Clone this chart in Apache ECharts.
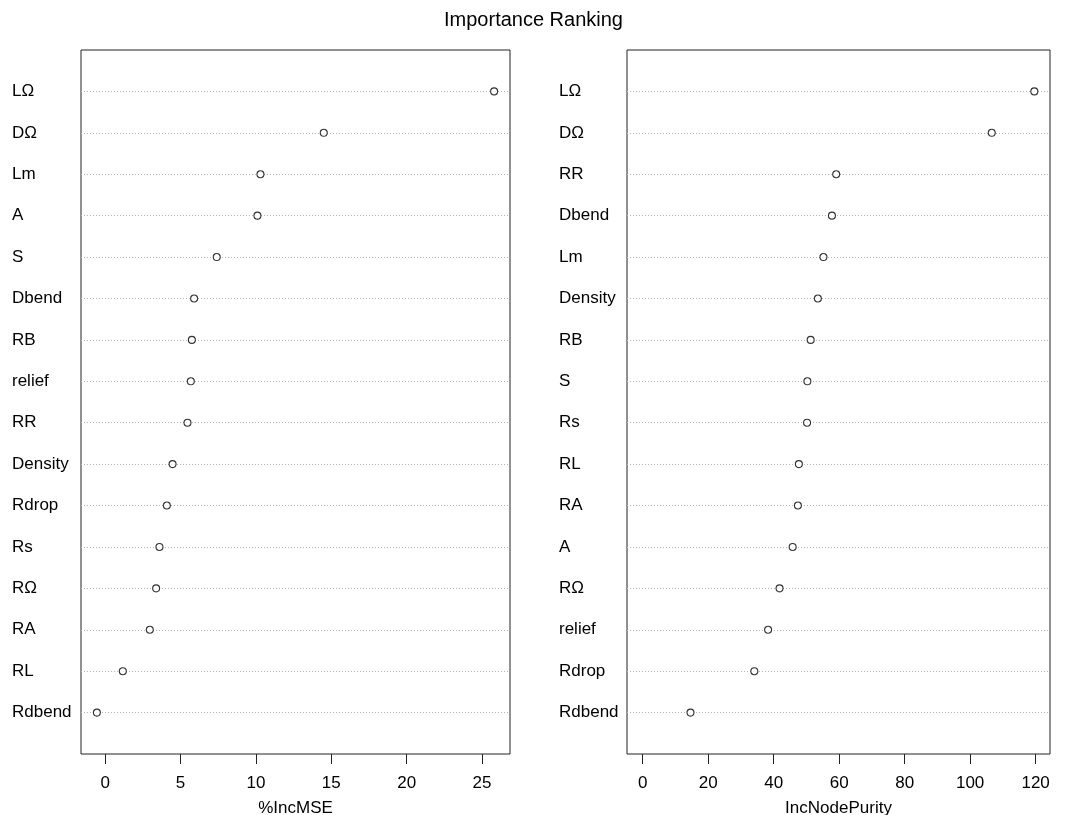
<!DOCTYPE html>
<html>
<head>
<meta charset="utf-8">
<script src="https://cdn.jsdelivr.net/npm/echarts@6/dist/echarts.min.js"></script>
<style>
  html, body { margin: 0; padding: 0; background: #fff; }
  #chart { width: 1067px; height: 815px; }
</style>
</head>
<body>
<div id="chart"></div>
<script>
// Variable importance from a random forest, ordered top to bottom as drawn
const mseNames = ['LΩ', 'DΩ', 'Lm', 'A', 'S', 'Dbend', 'RB', 'relief', 'RR', 'Density', 'Rdrop', 'Rs', 'RΩ', 'RA', 'RL', 'Rdbend'];
const mseValues = [25.8, 14.5, 10.3, 10.1, 7.4, 5.9, 5.75, 5.68, 5.46, 4.47, 4.09, 3.6, 3.38, 2.96, 1.17, -0.55];

const purityNames = ['LΩ', 'DΩ', 'RR', 'Dbend', 'Lm', 'Density', 'RB', 'S', 'Rs', 'RL', 'RA', 'A', 'RΩ', 'relief', 'Rdrop', 'Rdbend'];
const purityValues = [119.6, 106.6, 59.1, 57.8, 55.2, 53.5, 51.3, 50.3, 50.2, 47.7, 47.4, 45.8, 41.8, 38.3, 34.1, 14.6];

const mseTicks = [0, 5, 10, 15, 20, 25];
const purityTicks = [0, 20, 40, 60, 80, 100, 120];

const title = 'Importance Ranking';
const mseLabel = '%IncMSE';
const purityLabel = 'IncNodePurity';

const FONT = '"Liberation Sans", Arial, sans-serif';

// extend a data range by 4% on each side
function padRange(lo, hi) {
  const d = (hi - lo) * 0.04;
  return [lo - d, hi + d];
}

// rows sit at 1..n from the bottom, frame spans 0..n+1
function toPoints(values) {
  const n = values.length;
  return values.map((v, i) => [v, n - i]);
}

function gridColors(n) {
  const c = [];
  for (let i = 0; i <= n + 1; i++) c.push(i === 0 || i === n + 1 ? 'rgba(0,0,0,0)' : '#b4b4b4');
  return c;
}

function makeX(idx, range, ticks, name) {
  return {
    gridIndex: idx,
    type: 'value',
    min: range[0],
    max: range[1],
    name: name,
    nameLocation: 'middle',
    nameGap: 46,
    nameTextStyle: { fontFamily: FONT, fontSize: 17, color: '#000' },
    axisLine: { show: false },
    axisTick: { show: true, inside: false, length: 10, customValues: ticks,
                lineStyle: { color: '#222', width: 1 } },
    axisLabel: { show: true, customValues: ticks, margin: 21,
                 fontFamily: FONT, fontSize: 17, color: '#000' },
    splitLine: { show: false }
  };
}

function makeY(idx, names, margin) {
  const n = names.length;
  return {
    gridIndex: idx,
    type: 'value',
    min: 0,
    max: n + 1,
    interval: 1,
    axisLine: { show: false },
    axisTick: { show: false },
    axisLabel: {
      margin: margin,
      align: 'left',
      fontFamily: FONT,
      fontSize: 17,
      color: '#000',
      formatter: function (v) {
        const k = n - v;
        return (k >= 0 && k < n) ? names[k] : '';
      }
    },
    splitLine: { show: true, lineStyle: { color: gridColors(n), type: [1, 2], width: 1 } }
  };
}

const mseRange = padRange(Math.min(...mseValues), Math.max(...mseValues));
const purityRange = padRange(0, Math.max(...purityValues));

const dotStyle = { color: '#fff', borderColor: '#000', borderWidth: 1.1 };

const chart = echarts.init(document.getElementById('chart'), null, { renderer: 'canvas' });
chart.setOption({
  animation: false,
  backgroundColor: '#fff',
  title: {
    text: title,
    left: 'center',
    top: 10,
    padding: 0,
    textStyle: { fontFamily: FONT, fontSize: 20, fontWeight: 'normal', color: '#000' }
  },
  grid: [
    { left: 81, top: 50, width: 429, height: 704, show: true, borderColor: '#222', borderWidth: 1,
      backgroundColor: 'transparent', containLabel: false, outerBoundsMode: 'none' },
    { left: 627, top: 50, width: 423, height: 704, show: true, borderColor: '#222', borderWidth: 1,
      backgroundColor: 'transparent', containLabel: false, outerBoundsMode: 'none' }
  ],
  xAxis: [
    makeX(0, mseRange, mseTicks, mseLabel),
    makeX(1, purityRange, purityTicks, purityLabel)
  ],
  yAxis: [
    makeY(0, mseNames, 69),
    makeY(1, purityNames, 68)
  ],
  series: [
    { type: 'scatter', xAxisIndex: 0, yAxisIndex: 0, data: toPoints(mseValues),
      symbol: 'circle', symbolSize: 7, itemStyle: dotStyle, silent: true },
    { type: 'scatter', xAxisIndex: 1, yAxisIndex: 1, data: toPoints(purityValues),
      symbol: 'circle', symbolSize: 7, itemStyle: dotStyle, silent: true }
  ]
});
</script>
</body>
</html>
